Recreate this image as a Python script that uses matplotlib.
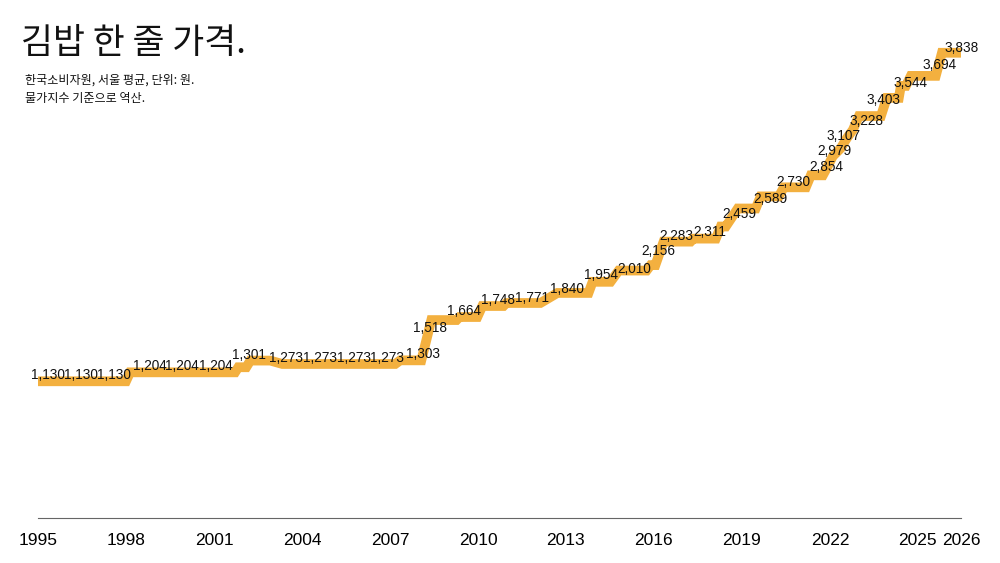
import matplotlib
matplotlib.use("Agg")
import matplotlib.pyplot as plt

# monthly price path (traced), decimal year -> won
line_years = [1995.00, 1998.00, 1998.14, 2001.72, 2001.83, 2002.10, 2002.24, 2002.92,
              2003.33, 2007.18, 2007.35, 2008.07, 2008.41, 2009.27, 2009.37, 2009.98,
              2010.15, 2010.87, 2010.97, 2012.13, 2012.71, 2013.77, 2013.91, 2014.52,
              2014.80, 2015.75, 2015.89, 2016.05, 2016.33, 2017.25, 2017.35, 2018.11,
              2018.28, 2018.45, 2018.86, 2019.47, 2019.64, 2020.26, 2020.43, 2021.18,
              2021.35, 2021.76, 2021.89, 2022.10, 2022.37, 2022.58, 2022.78, 2022.99,
              2023.74, 2023.94, 2024.35, 2024.42, 2024.59, 2024.76, 2025.61, 2025.82,
              2026.47]
line_values = [1130, 1130, 1204, 1204, 1246, 1246, 1301, 1301,
               1273, 1273, 1303, 1303, 1636, 1636, 1661, 1661,
               1752, 1752, 1777, 1777, 1860, 1860, 1952, 1952,
               2045, 2045, 2090, 2090, 2284, 2284, 2309, 2309,
               2409, 2409, 2558, 2558, 2658, 2658, 2733, 2733,
               2832, 2832, 2890, 2990, 3056, 3140, 3206, 3322,
               3322, 3472, 3472, 3571, 3571, 3654, 3654, 3845,
               3845]

# yearly labels (positions as placed in the chart)
label_years = [1995.34, 1996.47, 1997.59, 1998.82, 1999.91, 2001.08, 2002.20, 2003.46,
               2004.62, 2005.78, 2006.91, 2008.11, 2008.38, 2009.54, 2010.67, 2011.86,
               2013.02, 2014.18, 2015.34, 2016.16, 2016.77, 2017.90, 2018.92, 2019.98,
               2020.77, 2021.89, 2022.17, 2022.47, 2023.26, 2023.84, 2024.76, 2025.75,
               2026.50]
label_values = [1130, 1130, 1130, 1204, 1204, 1204, 1301, 1273,
                1273, 1273, 1273, 1303, 1518, 1664, 1748, 1771,
                1840, 1954, 2010, 2156, 2283, 2311, 2459, 2589,
                2730, 2854, 2979, 3107, 3228, 3403, 3544, 3694,
                3838]

tick_years = [1995, 1998, 2001, 2004, 2007, 2010, 2013, 2016, 2019, 2022, 2025, 2026.47]
tick_labels = ["1995", "1998", "2001", "2004", "2007", "2010", "2013", "2016",
               "2019", "2022", "2025", "2026"]

title = "김밥 한 줄 가격."
subtitle = "한국소비자원, 서울 평균, 단위: 원.\n물가지수 기준으로 역산."

num_font = ["Liberation Sans", "DejaVu Sans"]
kr_font = ["Noto Sans CJK KR", "DejaVu Sans"]
orange = "#F3B03F"

fig = plt.figure(figsize=(10, 5.63), dpi=100)
ax = fig.add_axes([0.038, 0.0799, 0.923, 0.8554])

ax.plot(line_years, line_values, color=orange, lw=7,
        solid_joinstyle="miter", solid_capstyle="butt")

for yr, val in zip(label_years, label_values):
    ax.annotate(f"{val:,}", (yr, val), xytext=(0, 1.5), textcoords="offset points",
                ha="center", va="baseline", fontsize=9.8, family=num_font,
                color="#111111", annotation_clip=False)

ax.set_xlim(1995, 2026.47)
ax.set_ylim(0, 3980)
ax.set_xticks(tick_years)
ax.set_xticklabels(tick_labels, family=num_font, fontsize=12.5)
ax.tick_params(axis="x", length=0, pad=11)
ax.set_yticks([])
for side in ["top", "left", "right"]:
    ax.spines[side].set_visible(False)
ax.spines["bottom"].set_color("#666666")
ax.spines["bottom"].set_linewidth(0.8)

fig.text(0.021, 1 - 43 / 563, title, family=kr_font, fontsize=25,
         va="center", ha="left", color="#111111")
fig.text(0.025, 1 - 74 / 563, subtitle, family=kr_font, fontsize=8.7,
         va="top", ha="left", linespacing=1.5, color="#111111")

fig.savefig("out.png", dpi=100)
